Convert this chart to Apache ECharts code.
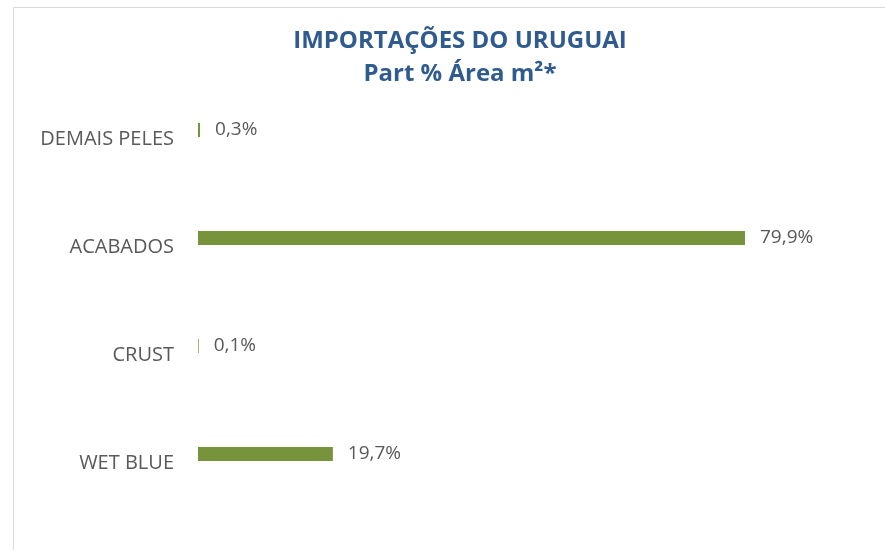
<!DOCTYPE html>
<html>
<head>
<meta charset="utf-8">
<script src="https://cdn.jsdelivr.net/npm/echarts@6/dist/echarts.min.js"></script>
<style>
    body { margin: 0; background: #fff; }
    #frame {
        position: absolute;
        left: 13px;
        top: 7px;
        width: 900px;
        height: 600px;
        border: 1px solid #d9d9d9;
    }
    #chart { position: absolute; left: 0; top: 0; width: 885px; height: 550px; }
</style>
</head>
<body>
<div id="frame"></div>
<div id="chart"></div>
<script>
    // categorias de cima para baixo
    const categories = ['DEMAIS PELES', 'ACABADOS', 'CRUST', 'WET BLUE'];
    const partArea = [0.3, 79.9, 0.1, 19.7];

    const chart = echarts.init(document.getElementById('chart'));
    chart.setOption({
        backgroundColor: 'transparent',
        title: {
            text: 'IMPORTAÇÕES DO URUGUAI\nPart % Área m²*',
            left: 455,
            top: 20,
            textAlign: 'center',
            textStyle: {
                fontFamily: 'Open Sans',
                fontWeight: 'bold',
                fontSize: 24,
                lineHeight: 33,
                color: '#2F5B8F'
            }
        },
        grid: {
            left: 198,
            right: 2.4,
            top: 76,
            bottom: 42
        },
        xAxis: {
            type: 'value',
            min: 0,
            max: 100,
            show: false
        },
        yAxis: {
            type: 'category',
            inverse: true,
            data: categories,
            axisLine: { show: false },
            axisTick: { show: false },
            axisLabel: {
                margin: 24,
                verticalAlign: 'top',
                lineHeight: 19,
                fontFamily: 'Open Sans',
                fontSize: 20,
                color: '#595959'
            }
        },
        series: [{
            type: 'bar',
            data: partArea,
            barWidth: 14,
            itemStyle: { color: '#77933C' },
            label: {
                show: true,
                position: 'right',
                distance: 15,
                fontFamily: 'Open Sans',
                fontSize: 19,
                color: '#595959',
                formatter: p => p.value.toFixed(1).replace('.', ',') + '%'
            }
        }]
    });
</script>
</body>
</html>
